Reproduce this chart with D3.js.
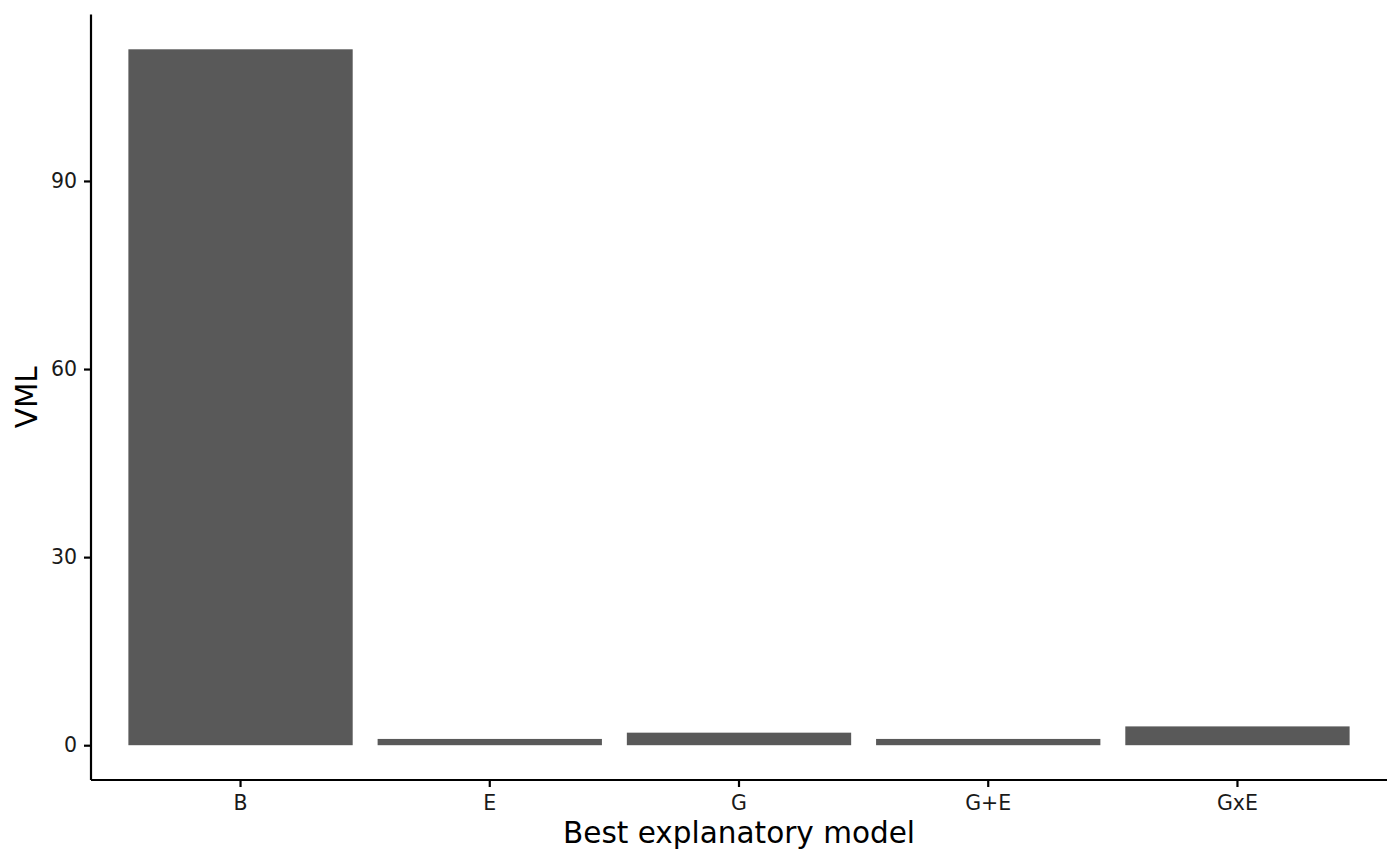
<!DOCTYPE html>
<html>
<head>
<meta charset="utf-8">
<script src="https://cdn.jsdelivr.net/npm/d3@7"></script>
<style>
  body { margin: 0; background: #fff; }
  text { font-family: "DejaVu Sans", sans-serif; }
</style>
</head>
<body>
<script>
// data
var models = ["B", "E", "G", "G+E", "GxE"];
var vml = [111, 1, 2, 1, 3];
var yTicks = [0, 30, 60, 90];

var W = 1400, H = 865;
var padL = 91, padR = 1387, padT = 14.5, padB = 780;

var svg = d3.select("body").append("svg")
    .attr("width", W)
    .attr("height", H);

var x = d3.scaleBand()
    .domain(models)
    .range([padL, padR])
    .paddingInner(0.1)
    .paddingOuter(0.15);

// ggplot style 5% expansion
var maxV = d3.max(vml);
var y = d3.scaleLinear()
    .domain([-0.05 * maxV, maxV * 1.05])
    .range([padB, padT]);

svg.selectAll("rect.bar")
    .data(models)
    .enter()
    .append("rect")
    .attr("class", "bar")
    .attr("x", function(d) { return x(d); })
    .attr("width", x.bandwidth())
    .attr("y", function(d, i) { return y(vml[i]); })
    .attr("height", function(d, i) { return y(0) - y(vml[i]); })
    .style("fill", "#595959");

// axes
var xAxis = svg.append("g")
    .attr("transform", "translate(0," + padB + ")")
    .call(d3.axisBottom(x).tickSize(7).tickPadding(8));
var yAxis = svg.append("g")
    .attr("transform", "translate(" + padL + ",0)")
    .call(d3.axisLeft(y).tickValues(yTicks).tickSize(7).tickPadding(7));

[xAxis, yAxis].forEach(function(a) {
  a.select(".domain").attr("stroke", "black").attr("stroke-width", 2.2);
  a.selectAll(".tick line").attr("stroke", "black").attr("stroke-width", 2.2);
  a.selectAll(".tick text")
      .attr("fill", "#1a1a1a")
      .style("font-size", "20.5px")
      .style("font-family", "DejaVu Sans, sans-serif");
});
xAxis.select(".domain").attr("d", "M" + padL + ",0H" + padR);
yAxis.select(".domain").attr("d", "M0," + padB + "V" + padT);

// titles
svg.append("text")
    .attr("x", (padL + padR) / 2)
    .attr("y", 843)
    .attr("text-anchor", "middle")
    .style("font-size", "29.5px")
    .text("Best explanatory model");

svg.append("text")
    .attr("transform", "translate(37," + (padT + padB) / 2 + ") rotate(-90)")
    .attr("text-anchor", "middle")
    .style("font-size", "29.5px")
    .text("VML");
</script>
</body>
</html>
